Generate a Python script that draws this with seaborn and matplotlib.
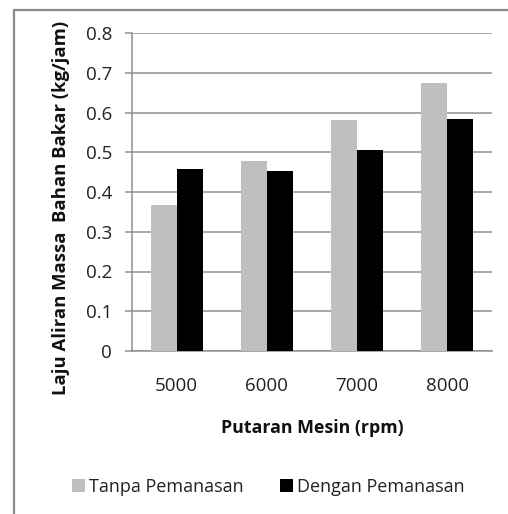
import matplotlib
matplotlib.use("Agg")
import matplotlib.pyplot as plt
from matplotlib.lines import Line2D
import seaborn as sns
import pandas as pd

# Fuel mass flow rate per engine speed, without / with fuel preheating
rpm = ["5000", "6000", "7000", "8000"]
tanpa_pemanasan = [0.367, 0.477, 0.582, 0.675]
dengan_pemanasan = [0.459, 0.452, 0.505, 0.584]
series_names = ["Tanpa Pemanasan", "Dengan Pemanasan"]
y_ticks = [0, 0.1, 0.2, 0.3, 0.4, 0.5, 0.6, 0.7, 0.8]
y_tick_labels = ["0", "0.1", "0.2", "0.3", "0.4", "0.5", "0.6", "0.7", "0.8"]

df = pd.DataFrame({
    "rpm": rpm * 2,
    "laju": tanpa_pemanasan + dengan_pemanasan,
    "kondisi": [series_names[0]] * len(rpm) + [series_names[1]] * len(rpm),
})

sns.set_theme(style="white")
plt.rcParams["font.family"] = ["Open Sans", "DejaVu Sans"]

W, H = 508, 514
fig = plt.figure(figsize=(W / 100, H / 100), dpi=100)
fig.patch.set_facecolor("white")

# axes placed in pixel terms
x0, x1 = 131.5, 492.5
y_top, y_bot = 33, 351
ax = fig.add_axes([x0 / W, 1 - y_bot / H, (x1 - x0) / W, (y_bot - y_top) / H])

grid_col = "#8f8f8f"
sns.barplot(data=df, x="rpm", y="laju", hue="kondisi", order=rpm,
            hue_order=series_names, palette=["#bfbfbf", "#000000"],
            width=0.576, saturation=1, linewidth=0, ax=ax, zorder=3)

ax.set_xlim(-0.5, len(rpm) - 0.5)
ax.set_ylim(0, 0.8)
ax.set_yticks(y_ticks)
ax.set_yticklabels(y_tick_labels)
ax.yaxis.grid(True, color=grid_col, linewidth=1.1, zorder=0)
ax.xaxis.grid(False)
ax.set_axisbelow(True)

for side in ["top", "right"]:
    ax.spines[side].set_visible(False)
for side in ["left", "bottom"]:
    ax.spines[side].set_color(grid_col)
    ax.spines[side].set_linewidth(1.1)

# category boundary ticks on x, outward ticks on y
ax.set_xticks([i - 0.5 for i in range(len(rpm) + 1)], minor=True)
ax.tick_params(axis="x", which="major", length=0, pad=19, labelsize=13.5, labelcolor="#222222")
ax.tick_params(axis="x", which="minor", length=5, width=1.1, color=grid_col, direction="out")
ax.tick_params(axis="y", which="major", length=5, width=1.1, color=grid_col, direction="out",
               pad=9, labelsize=13.5, labelcolor="#222222", left=True)

ax.set_xlabel("Putaran Mesin (rpm)", fontsize=12.8, fontweight="bold", color="#111111")
ax.set_ylabel("Laju Aliran Massa  Bahan Bakar (kg/jam)", fontsize=13.3, fontweight="bold",
              color="#111111")
ax.xaxis.set_label_coords(0.5, -0.213)
ax.yaxis.set_label_coords(-0.17, 0.45)

handles, labels = ax.get_legend_handles_labels()
ax.get_legend().remove()
fig.legend(handles, labels, loc="center", bbox_to_anchor=(268 / W, 1 - 487 / H),
           ncol=2, frameon=False, fontsize=13, handlelength=0.72, handleheight=0.72,
           handletextpad=0.22, columnspacing=2.0, labelcolor="#222222")

# outer chart frame (top and left edges)
border = "#8a8a8a"
fig.add_artist(Line2D([13.5 / W, 1], [1 - 10 / H, 1 - 10 / H], color=border, linewidth=1.6,
                      transform=fig.transFigure))
fig.add_artist(Line2D([13.5 / W, 13.5 / W], [0, 1 - 10 / H], color=border, linewidth=1.6,
                      transform=fig.transFigure))

fig.savefig("out.png", dpi=100, facecolor="white")
